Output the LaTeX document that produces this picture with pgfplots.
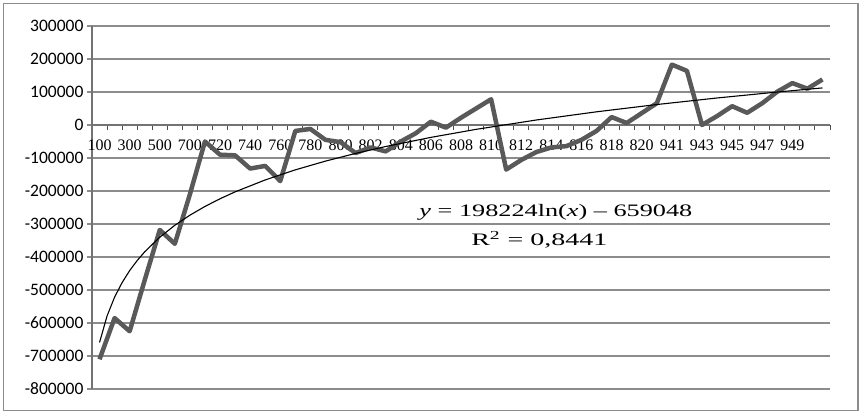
\documentclass[border=0pt]{standalone}
\usepackage{pgfplots}
\pgfplotsset{compat=1.18}
\usepackage{pgfplotstable}
\usepackage{graphicx}
\usepackage{fontspec}
\setmainfont{Liberation Serif}
\newfontfamily\calibri{Carlito}

% yearly result by category (index 1..49)
\pgfplotstableread{
cat val
1 -710000
2 -585000
3 -625000
4 -470000
5 -318000
6 -360000
7 -210000
8 -50000
9 -90000
10 -92000
11 -132000
12 -124000
13 -170000
14 -18000
15 -12000
16 -45000
17 -52000
18 -85000
19 -68000
20 -80000
21 -50000
22 -25000
23 10000
24 -8000
25 22000
26 50000
27 78000
28 -135000
29 -106000
30 -82000
31 -68000
32 -64000
33 -45000
34 -18000
35 24000
36 6000
37 36000
38 66000
39 183000
40 164000
41 0
42 27000
43 57000
44 37000
45 66000
46 101000
47 127000
48 110000
49 138000
}\profit

% log trend line, y = 198224 ln(x) - 659048
\pgfplotstableread{
x trend
1 -659048
1.5 -578676
2 -521650
2.5 -477417
3 -441276
3.5 -410720
4 -384251
5 -340018
6 -303877
7 -273321
8 -246853
9 -223505
10 -202620
12 -166479
14 -135923
16 -109454
18 -86107
20 -65222
23 -37518
26 -13215
30 15151
34 39961
38 62009
42 81848
46 99881
49 112404
}\trend

\begin{document}
\begin{tikzpicture}
\path[use as bounding box] (-92pt,-27pt) rectangle (772pt,389pt);
\draw[black!45, line width=1.2pt] (-88.7pt,-21.7pt) rectangle (766pt,385.7pt);
\begin{axis}[
    scale only axis, width=738pt, height=363pt,
    at={(0pt,0pt)}, anchor=south west,
    xmin=0.5, xmax=49.5, ymin=-800000, ymax=300000,
    axis y line=left, axis x line=middle,
    axis line style={-, black!55, line width=1.2pt},
    hide obscured x ticks=false, hide obscured y ticks=false,
    ytick={-800000,-700000,...,300000},
    scaled y ticks=false,
    ymajorgrids, grid style={black!45, line width=1.4pt},
    ytick align=outside, major tick length=5pt,
    ytick style={black!45, line width=1.4pt},
    yticklabel style={font=\calibri\fontsize{17.5}{20}\selectfont,
        /pgf/number format/fixed, /pgf/number format/1000 sep={},
        /pgf/number format/assume math mode=true},
    xtick={1,3,...,47},
    xticklabels={100,300,500,700,720,740,760,780,800,802,804,806,808,810,812,814,816,818,820,941,943,945,947,949},
    major x tick style={draw=none},
    minor xtick={0.5,1.5,...,49.5},
    xtick align=outside, minor tick length=5pt,
    minor x tick style={black!70, line width=1pt},
    xticklabel style={font=\fontsize{16}{18}\selectfont, yshift=-6pt},
]
\addplot[no markers, line width=4.5pt, black!65, line join=round] table[x=cat, y=val] {\profit};
\addplot[no markers, line width=1.1pt, black] table[x=x, y=trend] {\trend};
\node[font=\fontsize{17.5}{20}\selectfont] at (axis cs:31.3,-263600)
    {\scalebox{1.5}[1]{\textit{y} = 198224ln(\textit{x}) – 659048}};
\node[font=\fontsize{17.5}{20}\selectfont] at (axis cs:30.2,-348500)
    {\scalebox{1.6}[1]{R\textsuperscript{2} = 0,8441}};
\end{axis}
\end{tikzpicture}
\end{document}
